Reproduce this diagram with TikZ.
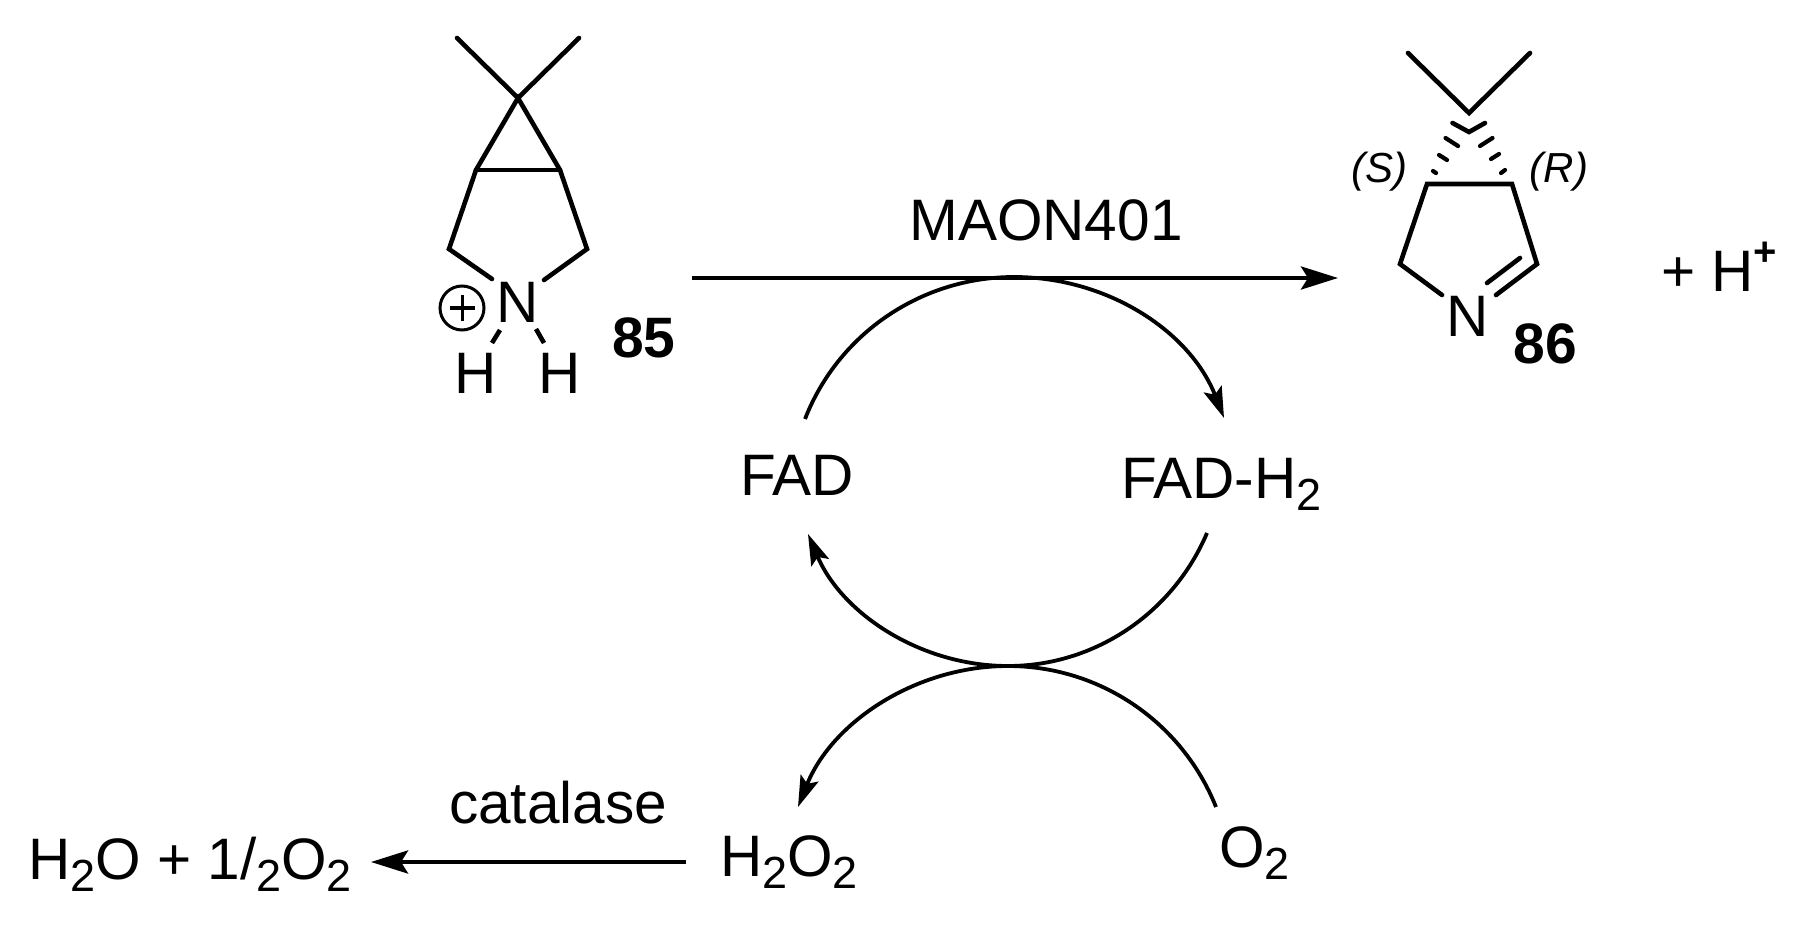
\documentclass[tikz,border=0pt]{standalone}
\usepackage{fontspec}
\setmainfont{Liberation Sans}
\usetikzlibrary{arrows.meta}
\newcommand{\subtwo}{\raisebox{-12pt}{\fontsize{45}{45}\selectfont 2}}
\newcommand{\supplus}{\raisebox{25pt}{\fontsize{40}{40}\selectfont\bfseries +}}
\tikzset{
  lab/.style={inner sep=0pt,anchor=base,font=\fontsize{58.5}{60}\selectfont},
  labw/.style={lab,anchor=base west},
  num/.style={inner sep=0pt,anchor=base,font=\fontsize{57}{60}\selectfont\bfseries},
  stereo/.style={inner sep=0pt,anchor=base,font=\fontsize{42}{44}\selectfont\itshape},
  bond/.style={line width=4.6pt,line cap=round,line join=miter},
  hash/.style={line width=4.6pt},
  thinhash/.style={line width=4.2pt},
  rxn/.style={line width=4.4pt,-{Stealth[length=37pt,width=23pt,inset=7pt]}},
  cyc/.style={line width=3.8pt,-{Stealth[length=31pt,width=19pt,inset=6pt]}},
  charge/.style={line width=3pt}
}
\begin{document}
\begin{tikzpicture}[x=1pt,y=-1pt]
\useasboundingbox[fill=white] (0,0) rectangle (1796,925);
% compound 85
\coordinate (aMe1) at (457,38);
\coordinate (aMe2) at (579,38);
\coordinate (aC) at (518,98);
\coordinate (aL) at (476,170);
\coordinate (aR) at (560,170);
\coordinate (aLL) at (449,249);
\coordinate (aLR) at (587,249);
\coordinate (aNl) at (492,279);
\coordinate (aNr) at (544,280);
\draw[bond] (aMe1) -- (aC) -- (aMe2);
\draw[bond] (aNl) -- (aLL) -- (aL) -- (aC) -- (aR) -- (aLR) -- (aNr);
\draw[bond] (aL) -- (aR);
\node[lab] (n85) at (518,322) {N};
\node[lab] (h85a) at (476,393) {H};
\node[lab] (h85b) at (560,393) {H};
\node[num] (c85) at (644,357) {85};
\coordinate (hA1) at (500,330); \coordinate (hA2) at (492,343);
\coordinate (hB1) at (536,329); \coordinate (hB2) at (544,343);
\draw[bond,line cap=butt] (hA1) -- (hA2);
\draw[bond,line cap=butt] (hB1) -- (hB2);
\coordinate (chg) at (462,308);
\draw[charge] (chg) circle[radius=22pt];
\draw[charge] (chg) ++(-12.5,0) -- ++(25,0);
\draw[charge] (chg) ++(0,-12.5) -- ++(0,25);
% compound 86
\coordinate (bMe1) at (1408,53);
\coordinate (bMe2) at (1530,53);
\coordinate (bC) at (1469,113);
\coordinate (bL) at (1427,184);
\coordinate (bR) at (1512,184);
\coordinate (bLL) at (1400,264);
\coordinate (bLR) at (1537,264);
\coordinate (bNl) at (1442,295);
\coordinate (bNr) at (1496,295);
\coordinate (bD1) at (1487,283);
\coordinate (bD2) at (1520,258);
\draw[bond] (bMe1) -- (bC) -- (bMe2);
\draw[bond] (bNl) -- (bLL) -- (bL) -- (bR) -- (bLR) -- (bNr);
\draw[bond] (bD1) -- (bD2);
% hashed wedges
\draw[hash,line cap=round,line join=miter] (1452.5,123) -- (1469,132) -- (1485,123);
\draw[thinhash,line cap=round] (1445.5,138) -- (1458,146);
\draw[thinhash,line cap=round] (1480,146) -- (1492.5,138);
\draw[thinhash,line cap=round] (1439,155) -- (1447,160);
\draw[thinhash,line cap=round] (1491,159) -- (1499,154);
\draw[thinhash,line cap=round] (1433,171) -- (1436,173);
\draw[thinhash,line cap=round] (1501,173) -- (1505,170);
\node[lab] (n86) at (1468,336) {N};
\node[num] (c86) at (1545,363) {86};
\node[stereo] (s) at (1379,183) {(S)};
\node[stereo] (r) at (1559,183) {(R)};
\node[labw] (hplus) at (1661,291) {+ H\supplus};
% labels
\node[lab] (enz) at (1046,241) {MAON401};
\node[lab] (fad) at (797,495) {FAD};
\node[labw] (fadh) at (1121,498) {FAD-H\subtwo};
\node[labw] (hh) at (720,876) {H\subtwo O\subtwo};
\node[labw] (oo) at (1219,867) {O\subtwo};
\node[lab] (cat) at (558,823) {catalase};
\node[labw] (prod) at (28,879) {H\subtwo O + 1/\subtwo O\subtwo};
% arrows
\coordinate (mS) at (692,278);
\coordinate (mE) at (1338,278);
\draw[rxn] (mS) -- (mE);
\coordinate (cS) at (686,862);
\coordinate (cE) at (371,862);
\draw[rxn] (cS) -- (cE);
\coordinate (t1) at (805,419);
\coordinate (t2) at (1014,277);
\coordinate (t3) at (1224,418);
\draw[cyc] (t1) .. controls (839,332) and (923,277) .. (t2) .. controls (1107,277) and (1190,331) .. (t3);
\coordinate (m1) at (1207,533);
\coordinate (m2) at (1008,666);
\coordinate (m3) at (808,534);
\draw[cyc] (m1) .. controls (1173,613) and (1095,666) .. (m2) .. controls (921,666) and (842,614) .. (m3);
\coordinate (l1) at (1216,807);
\coordinate (l3) at (798,807);
\draw[cyc] (l1) .. controls (1182,722) and (1100,666) .. (m2) .. controls (916,666) and (832,722) .. (l3);
\end{tikzpicture}
\end{document}
